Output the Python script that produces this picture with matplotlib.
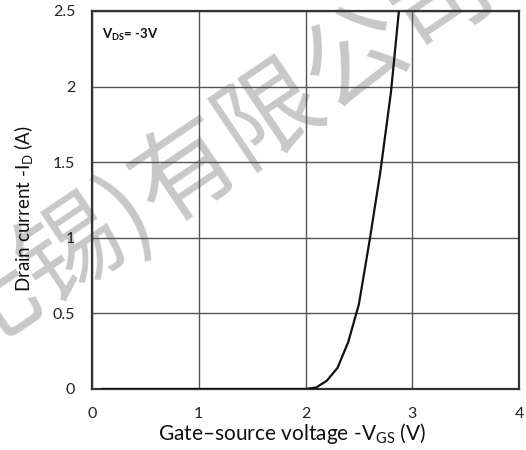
import matplotlib
matplotlib.use("Agg")
import matplotlib.pyplot as plt

# Data
vgs = [0.1, 0.5, 1.0, 1.5, 2.0, 2.1, 2.2, 2.3, 2.4, 2.5, 2.6, 2.7, 2.8, 2.875]
id_a = [0.0, 0.0, 0.0, 0.0, 0.0, 0.01, 0.055, 0.14, 0.31, 0.56, 0.98, 1.43, 1.96, 2.5]
xticks = [0, 1, 2, 3, 4]
yticks = [0, 0.5, 1, 1.5, 2, 2.5]
ytick_labels = ["0", "0.5", "1", "1.5", "2", "2.5"]
watermark_left = "无锡)"
watermark_right = "有限公司"

plt.rcParams['font.family'] = ['Lato', 'DejaVu Sans']
plt.rcParams['mathtext.fontset'] = 'custom'
plt.rcParams['mathtext.rm'] = 'Lato'
plt.rcParams['mathtext.bf'] = 'Lato:bold'

fig = plt.figure(figsize=(5.26, 4.5), dpi=100)
fig.patch.set_facecolor('white')

# watermark behind everything
wx, wy = 144/526, 1-202/450
for s, ha in ((watermark_left, 'right'), (watermark_right, 'left')):
    fig.text(wx, wy, s, family=['Noto Sans CJK SC'], fontsize=74,
             color='#c8c8c8', rotation=34, rotation_mode='anchor', ha=ha, va='center',
             zorder=0)

ax = fig.add_axes([92/526, 1-389/450, 427/526, 378/450])
ax.set_facecolor('none')
ax.set_zorder(1)

ax.plot(vgs, id_a, color='#111111', lw=1.6, zorder=3, clip_on=True)

ax.set_xlim(0, 4)
ax.set_ylim(0, 2.5)
ax.set_xticks(xticks)
ax.set_yticks(yticks)
ax.set_yticklabels(ytick_labels)
ax.tick_params(length=0, labelsize=11.5, colors='#222222')
ax.tick_params(axis='y', pad=12)
ax.tick_params(axis='x', pad=13)
ax.grid(True, color='#555555', lw=1.0)
ax.set_axisbelow(True)
for s in ax.spines.values():
    s.set_color('#333333')
    s.set_linewidth(1.6)

ax.text(0.023, 0.937, r'$\mathbf{V_{DS}}$= -3V', transform=ax.transAxes,
        fontsize=9.5, fontweight='bold', ha='left', va='center', color='#111111')

fig.text(24/526, 1-209/450, r'Drain current -I$_{\mathrm{D}}$ (A)', rotation=90,
         ha='center', va='center', fontsize=13.5, color='#111111')
fig.text(292/526, 1-433/450, r'Gate–source voltage -V$_{\mathrm{GS}}$ (V)',
         ha='center', va='center', fontsize=15, color='#111111')

fig.savefig('out.png', dpi=100)
